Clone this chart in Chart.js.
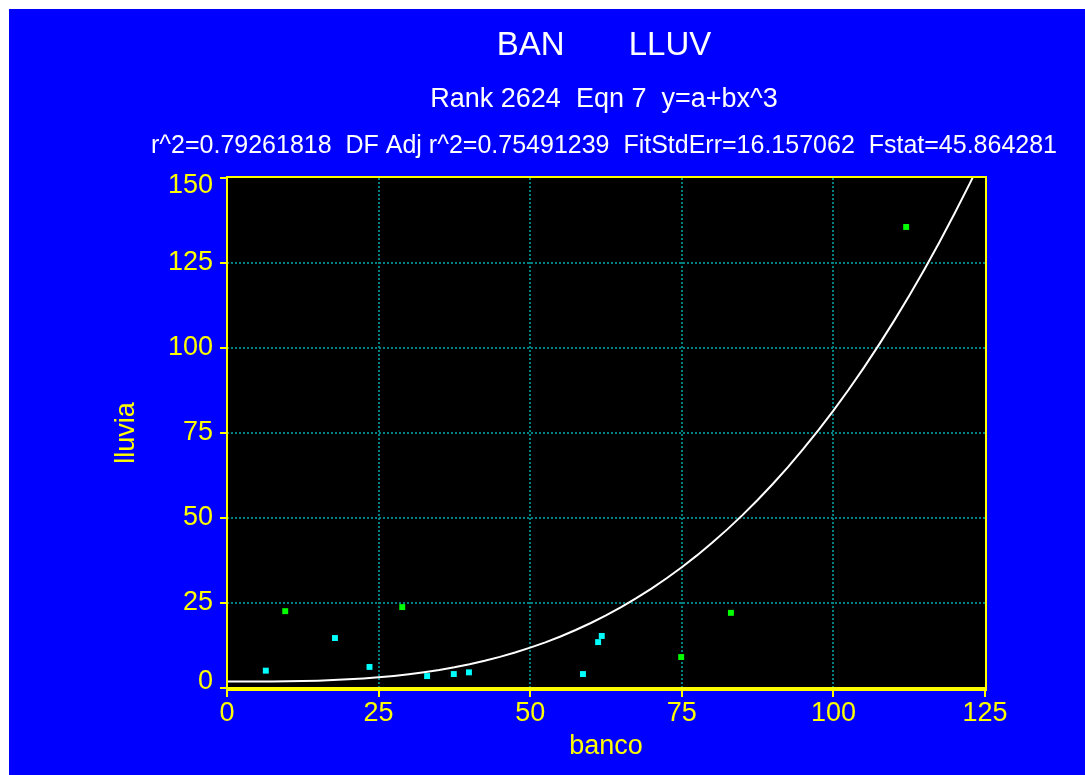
<!DOCTYPE html>
<html>
<head>
<meta charset="utf-8">
<title>BAN LLUV</title>
<script src="https://cdn.jsdelivr.net/npm/chart.js@4/dist/chart.umd.min.js"></script>
<style>
  html, body { margin: 0; padding: 0; background: #ffffff; }
  canvas { display: block; }
</style>
</head>
<body>
<canvas id="chart" width="1085" height="775"></canvas>
<script>
// Observations: banco (x) vs lluvia (y), split into two marker groups
const cyanBanco  = [6.4, 17.8, 23.5, 33.0, 37.4, 39.9, 58.7, 61.2, 61.8];
const cyanLluvia = [5.1, 14.7, 6.2, 3.5, 4.1, 4.6, 4.1, 13.5, 15.3];
const greenBanco  = [9.6, 28.9, 74.9, 83.1, 112.0];
const greenLluvia = [22.6, 23.8, 9.1, 22.1, 135.6];

// Fitted model y = a + b*x^3
const fitA = 1.9;
const fitB = 7.97e-5;
const curveStep = 2.5;

// Axis ticks
const xTicks = [0, 25, 50, 75, 100, 125];
const yTicks = [0, 25, 50, 75, 100, 125, 150];

// Header text
const titleText = 'BAN       LLUV';
const subtitleText = 'Rank 2624  Eqn 7  y=a+bx^3';
const statsText = 'r^2=0.79261818  DF Adj r^2=0.75491239  FitStdErr=16.157062  Fstat=45.864281';

const FONT = "'Liberation Sans', Arial, sans-serif";
const YELLOW = '#ffff00';
const BLUE = '#0000ff';
const TEAL = '#008080';

const toPoints = (xs, ys) => xs.map((x, i) => ({ x: x, y: ys[i] }));

const curvePoints = [];
for (let x = xTicks[0]; x <= xTicks[xTicks.length - 1] + 1e-9; x += curveStep) {
  curvePoints.push({ x: x, y: fitA + fitB * x * x * x });
}

const backdrop = {
  id: 'backdrop',
  beforeDraw(chart) {
    const { ctx, chartArea: a } = chart;
    ctx.save();
    ctx.fillStyle = '#ffffff';
    ctx.fillRect(0, 0, chart.width, chart.height);
    ctx.fillStyle = BLUE;
    ctx.fillRect(9, 9, chart.width - 9, chart.height - 9);
    ctx.fillStyle = '#000000';
    ctx.fillRect(a.left, a.top, a.right - a.left, a.bottom - a.top);

    // header lines
    const cx = 604;
    ctx.fillStyle = '#ffffff';
    ctx.textAlign = 'center';
    ctx.textBaseline = 'alphabetic';
    ctx.font = '33px ' + FONT;
    ctx.fillText(titleText, cx, 55);
    ctx.font = '27px ' + FONT;
    ctx.fillText(subtitleText, cx, 107);
    ctx.font = '25px ' + FONT;
    ctx.fillText(statsText, cx, 153);
    ctx.restore();

    // keep the end labels of the value axis inside the plot height
    const ys = chart.scales.y;
    if (ys && typeof ys.getLabelItems === 'function') {
      const items = ys.getLabelItems(a);
      if (items && items.length) {
        const first = items[0].options && items[0].options.translation;
        const last = items[items.length - 1].options && items[items.length - 1].options.translation;
        if (first && !first.shifted) { first[1] -= 6; first.shifted = true; }
        if (last && !last.shifted) { last[1] += 8; last.shifted = true; }
      }
    }
  }
};

const frame = {
  id: 'frame',
  afterDatasetsDraw(chart) {
    const { ctx, chartArea: a } = chart;
    ctx.save();
    ctx.fillStyle = YELLOW;
    ctx.fillRect(a.left - 1, a.top - 2, a.right - a.left + 2, 2);   // top
    ctx.fillRect(a.right, a.top - 2, 2, a.bottom - a.top + 5);      // right
    ctx.fillRect(a.left - 1, a.top - 2, 2, a.bottom - a.top + 5);   // left axis
    ctx.fillRect(a.left - 1, a.bottom - 1, a.right - a.left + 3, 4); // bottom axis
    ctx.restore();
  }
};

const edgeFree = (ctx) => {
  const v = ctx.tick ? ctx.tick.value : null;
  const s = ctx.scale;
  return (v === s.min || v === s.max) ? 'rgba(0,0,0,0)' : TEAL;
};

new Chart(document.getElementById('chart'), {
  type: 'scatter',
  data: {
    datasets: [
      {
        label: 'fit',
        type: 'line',
        data: curvePoints,
        borderColor: '#ffffff',
        borderWidth: 2,
        pointRadius: 0,
        tension: 0,
        fill: false,
        order: 3
      },
      {
        label: 'cyan',
        data: toPoints(cyanBanco, cyanLluvia),
        backgroundColor: '#00ffff',
        borderWidth: 0,
        pointStyle: 'rect',
        pointRadius: 4.2,
        order: 1
      },
      {
        label: 'green',
        data: toPoints(greenBanco, greenLluvia),
        backgroundColor: '#00ff00',
        borderWidth: 0,
        pointStyle: 'rect',
        pointRadius: 4.2,
        order: 2
      }
    ]
  },
  options: {
    responsive: false,
    animation: false,
    devicePixelRatio: 1,
    layout: { padding: { left: 0, top: 178, right: 100, bottom: 0 } },
    plugins: {
      legend: { display: false },
      tooltip: { enabled: false },
      title: { display: false }
    },
    scales: {
      x: {
        type: 'linear',
        min: xTicks[0],
        max: xTicks[xTicks.length - 1],
        afterFit(scale) { scale.height = 87; },
        afterBuildTicks(scale) { scale.ticks = xTicks.map(v => ({ value: v })); },
        ticks: {
          color: YELLOW,
          font: { family: FONT, size: 27 },
          padding: 0,
          maxRotation: 0,
          autoSkip: false
        },
        grid: {
          color: edgeFree,
          lineWidth: 2,
          drawTicks: true,
          tickLength: 9,
          tickColor: YELLOW,
          tickWidth: 2,
          tickBorderDash: []
        },
        border: { display: false, dash: [2, 2] },
        title: {
          display: true,
          text: 'banco',
          color: YELLOW,
          font: { family: FONT, size: 27 },
          padding: { top: 0, bottom: 12 }
        }
      },
      y: {
        type: 'linear',
        min: yTicks[0],
        max: yTicks[yTicks.length - 1],
        afterFit(scale) { scale.width = 227; },
        afterBuildTicks(scale) { scale.ticks = yTicks.map(v => ({ value: v })); },
        ticks: {
          color: YELLOW,
          font: { family: FONT, size: 27 },
          padding: 7,
          autoSkip: false
        },
        grid: {
          color: edgeFree,
          lineWidth: 2,
          drawTicks: true,
          tickLength: 7,
          tickColor: YELLOW,
          tickWidth: 2,
          tickBorderDash: []
        },
        border: { display: false, dash: [2, 2] },
        title: {
          display: true,
          text: 'lluvia',
          color: YELLOW,
          font: { family: FONT, size: 27 },
          padding: { top: 110, bottom: 0 }
        }
      }
    }
  },
  plugins: [backdrop, frame]
});
</script>
</body>
</html>
